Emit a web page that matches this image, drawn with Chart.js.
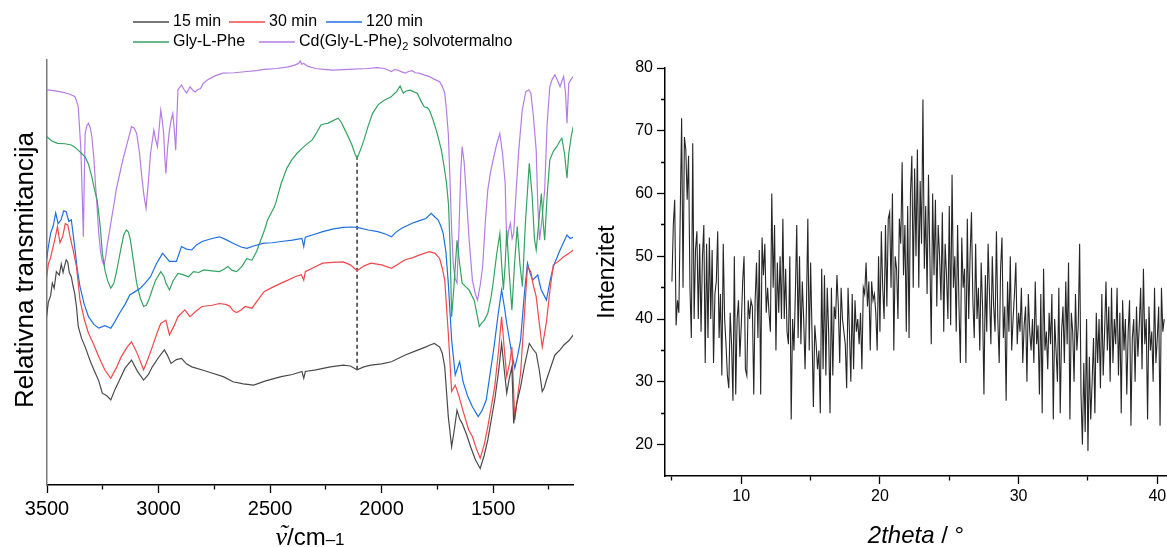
<!DOCTYPE html>
<html>
<head>
<meta charset="utf-8">
<script src="https://cdn.jsdelivr.net/npm/chart.js@4.4.1/dist/chart.umd.min.js"></script>
<style>
  html, body { margin: 0; padding: 0; background: #fff; }
  #wrap { position: relative; width: 1167px; height: 547px; }
  #ir { position: absolute; left: 0; top: 0; }
  #xrd { position: absolute; left: 580px; top: 0; }
</style>
</head>
<body>
<div id="wrap">
  <canvas id="ir" width="580" height="547"></canvas>
  <canvas id="xrd" width="587" height="547"></canvas>
</div>
<script>
// ---- IR spektri (valni broj / relativna transmitancija) ----
const wn15 = [3502,3494,3484,3476,3468,3458,3445,3436,3428,3422,3414,3407,3400,3391,3384,3376,3368,3360,3345,3329,
  3305,3283,3268,3252,3232,3214,3195,3175,3150,3121,3095,3067,3045,3028,3000,2974,2960,2944,2920,2897,
  2875,2851,2800,2758,2710,2666,2620,2573,2520,2450,2400,2357,2349,2342,2295,2230,2172,2140,2110,2080,
  2048,2000,1956,1894,1850,1801,1780,1763,1750,1740,1728,1717,1701,1686,1674,1662,1650,1639,1620,1601,
  1580,1558,1540,1524,1493,1475,1462,1450,1439,1428,1416,1408,1395,1377,1360,1338,1322,1307,1293,1280,
  1270,1261,1240,1223,1200,1184,1160,1141];
const tr15 = [39.6,43.0,44.5,47.5,46.3,50.2,49.4,52.0,50.0,51.4,53.0,52.5,50.0,49.0,47.0,45.1,42.0,37.3,34.5,32.5,
  29.0,26.3,24.5,21.6,21.0,20.0,22.5,24.7,27.5,29.4,26.8,24.7,26.0,27.8,30.0,31.8,30.5,28.6,29.5,29.8,
  28.5,27.8,27.0,26.3,25.5,24.3,23.8,23.5,24.5,25.5,26.0,26.7,25.1,26.7,27.1,27.8,28.2,28.0,27.1,27.8,
  28.2,28.5,29.0,30.6,31.5,32.5,33.0,33.3,32.8,32.5,31.0,27.8,16.1,9.0,13.0,17.6,15.5,14.5,12.0,9.0,
  6.0,3.9,7.0,10.6,20.0,27.0,33.3,27.0,21.6,25.0,27.8,14.5,19.0,23.1,28.0,33.3,32.0,31.0,27.0,22.0,
  23.0,24.7,28.0,30.6,31.8,32.9,34.0,35.3];

const wn30 = [3502,3494,3484,3476,3466,3453,3442,3430,3418,3407,3395,3383,3368,3352,3333,3314,3290,3268,3240,3214,
  3190,3167,3140,3121,3100,3090,3067,3045,3028,3005,2990,2967,2951,2930,2913,2882,2859,2830,2805,2760,
  2727,2700,2681,2665,2650,2630,2612,2595,2581,2555,2527,2490,2450,2420,2388,2360,2349,2342,2300,2264,
  2220,2172,2140,2110,2080,2048,2000,1956,1925,1894,1860,1832,1786,1760,1740,1728,1717,1701,1686,1670,
  1655,1632,1610,1593,1575,1558,1540,1524,1493,1475,1462,1450,1439,1425,1416,1403,1390,1377,1360,1346,
  1331,1320,1307,1293,1280,1270,1261,1245,1230,1210,1184,1160,1141];
const tr30 = [48.6,52.0,53.5,55.3,57.5,60.8,57.0,58.4,61.5,61.2,58.0,55.3,51.4,43.5,39.0,35.7,33.0,30.2,27.0,25.1,
  27.5,30.2,32.5,33.7,31.5,30.2,27.1,30.0,32.5,36.0,38.0,38.8,35.3,37.5,39.6,41.2,39.6,41.0,42.0,42.3,
  42.7,42.5,42.1,41.0,40.6,41.2,42.0,41.8,41.6,43.5,45.5,46.5,47.5,48.2,49.0,49.5,48.2,50.2,51.3,52.2,
  52.4,52.5,51.8,50.4,51.5,52.2,51.8,51.0,52.0,53.0,53.5,54.1,54.9,54.5,53.3,51.0,48.2,35.7,22.0,23.5,
  21.2,16.9,13.0,11.4,8.5,6.3,9.5,13.7,23.1,32.0,39.6,32.0,25.5,29.0,32.5,15.3,21.0,26.3,40.0,51.4,
  50.2,47.0,44.3,38.0,32.5,35.5,38.4,46.0,51.8,52.5,53.7,54.5,55.3];

const wn120 = [3502,3494,3484,3472,3461,3450,3437,3425,3414,3402,3391,3376,3365,3352,3333,3314,3290,3268,3240,3214,
  3195,3175,3150,3129,3105,3082,3060,3036,3010,2982,2965,2951,2920,2897,2875,2851,2830,2805,2760,2727,
  2700,2666,2630,2604,2570,2527,2490,2450,2400,2357,2349,2342,2300,2264,2220,2172,2140,2110,2060,2017,
  1980,1956,1935,1910,1863,1830,1801,1778,1760,1747,1735,1724,1712,1701,1686,1670,1650,1635,1615,1593,
  1567,1550,1531,1496,1478,1462,1450,1439,1420,1403,1390,1377,1360,1346,1335,1323,1300,1285,1261,1245,
  1230,1200,1185,1169,1155,1141];
const tr120 = [52.9,56.0,59.2,61.0,64.0,61.5,62.4,64.5,64.3,62.0,62.4,56.1,51.0,46.7,42.5,39.6,37.8,36.9,37.5,36.9,
  38.5,40.4,42.5,44.7,45.5,46.3,47.5,49.0,52.0,54.5,53.5,52.6,52.6,56.1,55.5,55.3,56.5,57.3,58.0,58.4,
  57.8,56.9,56.0,55.7,56.3,56.9,57.0,57.3,57.6,58.0,56.1,58.3,59.0,59.6,60.2,60.6,60.7,60.6,60.0,59.6,
  59.0,58.4,59.5,60.4,61.6,62.2,62.7,63.9,63.0,62.4,61.0,59.2,55.0,47.5,34.1,25.9,29.0,24.3,21.0,18.4,
  16.1,17.5,20.0,32.5,40.0,45.9,42.0,38.0,32.0,27.5,30.5,34.1,45.0,52.2,50.0,48.2,49.4,46.0,43.5,48.0,
  51.4,55.3,57.0,58.8,58.0,58.3];

const wnGly = [3502,3480,3453,3420,3391,3375,3360,3345,3329,3314,3299,3287,3275,3266,3260,3252,3240,3229,3214,3200,
  3190,3178,3167,3155,3144,3135,3126,3112,3098,3082,3067,3055,3044,3028,3013,2990,2975,2967,2951,2935,
  2913,2890,2866,2843,2820,2797,2760,2727,2705,2689,2670,2650,2625,2604,2590,2581,2560,2542,2525,2511,
  2495,2480,2473,2450,2425,2403,2380,2357,2335,2311,2290,2272,2255,2241,2215,2195,2180,2164,2150,2133,
  2120,2110,2095,2079,2060,2041,2015,1987,1970,1956,1945,1933,1925,1917,1910,1902,1890,1871,1855,1840,
  1825,1809,1795,1786,1770,1755,1745,1732,1720,1709,1700,1693,1686,1678,1662,1650,1639,1620,1608,1595,
  1585,1570,1562,1550,1539,1524,1510,1500,1485,1470,1462,1454,1446,1439,1428,1416,1404,1392,1380,1369,
  1355,1338,1325,1315,1307,1295,1284,1276,1269,1258,1246,1230,1215,1200,1192,1180,1169,1161,1150,1141];
const trGly = [82.0,81.0,80.4,80.3,80.0,79.5,78.8,78.0,77.2,75.5,72.5,69.5,67.0,63.0,60.0,54.5,50.5,48.2,46.3,47.5,
  49.8,53.0,56.1,59.0,60.0,59.5,57.6,52.5,47.5,44.0,42.0,42.3,43.5,46.0,48.2,50.2,49.0,47.5,45.9,48.0,
  49.8,49.5,49.0,50.2,50.0,50.6,50.4,50.2,50.8,51.4,50.5,50.2,51.5,53.3,53.0,52.9,55.0,57.6,60.0,62.4,
  64.0,65.5,66.6,71.0,74.5,76.5,78.0,79.2,80.2,81.2,83.0,84.7,85.0,85.1,85.8,86.3,85.3,83.5,82.0,80.0,
  78.0,76.9,78.8,81.2,84.5,87.4,89.5,90.6,91.0,91.4,92.0,92.5,93.3,93.9,93.0,92.2,92.7,92.9,92.5,92.2,
  90.5,89.0,88.8,88.2,86.0,83.5,81.5,78.8,75.0,71.0,66.0,56.0,39.6,45.0,57.6,52.0,47.5,46.5,45.9,44.5,
  43.5,39.5,37.3,38.2,38.8,40.4,44.0,47.5,54.0,59.2,52.0,45.9,52.0,60.0,50.0,41.2,52.0,60.8,52.0,46.7,
  62.0,75.7,68.0,58.0,55.3,62.0,68.6,62.0,57.6,68.0,76.5,78.5,79.6,81.0,81.6,78.0,72.2,78.0,82.0,84.3];

const wnCd = [3502,3470,3437,3400,3376,3368,3360,3354,3348,3342,3337,3333,3329,3322,3314,3306,3299,3290,3283,3275,
  3268,3260,3252,3244,3236,3229,3220,3214,3200,3190,3175,3160,3140,3121,3110,3098,3085,3075,3065,3056,
  3046,3036,3021,3012,3005,2997,2990,2984,2977,2972,2967,2960,2951,2943,2936,2930,2923,2918,2913,2897,
  2885,2874,2866,2859,2848,2836,2825,2812,2800,2781,2750,2712,2660,2604,2560,2527,2470,2419,2390,2372,
  2365,2358,2349,2330,2295,2260,2218,2150,2064,2020,1987,1970,1956,1940,1925,1910,1894,1880,1863,1850,
  1832,1810,1786,1765,1740,1728,1717,1709,1701,1693,1686,1678,1670,1662,1652,1645,1639,1630,1620,1608,
  1593,1580,1570,1558,1547,1535,1524,1512,1500,1485,1470,1458,1446,1439,1430,1423,1415,1408,1396,1385,
  1370,1354,1340,1331,1320,1307,1300,1292,1280,1269,1258,1246,1235,1223,1210,1200,1192,1184,1175,1169,
  1161,1150,1141];
const trCd = [93.0,92.8,92.5,92.0,91.4,90.5,89.0,84.0,78.8,68.0,58.4,72.0,82.7,84.5,85.1,84.0,82.0,77.0,71.0,65.0,
  59.2,55.0,52.6,51.8,54.0,56.9,59.5,61.6,66.0,69.4,73.0,76.5,80.5,84.3,84.0,82.7,78.0,72.5,68.0,65.1,
  71.0,78.0,83.5,81.0,79.6,84.0,88.2,86.0,82.7,77.0,73.3,79.0,83.5,86.0,87.4,84.0,78.8,86.0,93.0,94.1,
  93.0,92.2,93.0,93.7,93.0,92.5,93.0,93.3,94.5,95.3,96.2,96.9,97.0,97.3,97.5,97.8,98.0,98.4,98.8,99.2,
  99.8,99.0,99.2,98.5,98.0,97.8,97.6,97.8,98.0,98.2,98.0,97.6,97.3,97.8,97.6,97.2,96.9,97.3,97.5,97.0,
  96.9,96.5,96.1,95.5,94.9,93.8,92.2,88.0,82.7,71.0,60.0,51.4,48.5,47.5,62.0,74.0,79.6,76.0,68.0,58.0,
  48.2,45.0,43.5,47.0,51.4,62.0,69.4,73.5,76.5,80.0,82.7,78.0,71.0,56.1,60.0,61.6,58.0,59.2,70.0,78.8,
  88.0,92.5,93.0,92.2,87.0,78.8,66.0,57.6,63.0,69.4,85.0,93.7,95.5,96.5,95.0,93.7,95.0,96.1,92.0,85.1,
  94.5,95.5,96.1];

// isprekidana oznaka kod ~2110 cm-1
const markerWn = 2110;
const markerTop = 77.5;
const markerBottom = 27.1;

const irTicks = [3500, 3250, 3000, 2750, 2500, 2250, 2000, 1750, 1500, 1250];

// ---- XRD (2theta od 5.0 do 40.5, korak 0.1) ----
const twoThetaStart = 5.0;
const twoThetaStep = 0.1;
const xrdIntensity = [
  46,55,59,39,43,41,57,72,45,69,
  67,59,66,45,37,68,40,51,54,40,
  52,38,50,55,33,52,37,53,40,51,
  33,44,46,54,37,44,31,52,40,36,
  31,29,41,36,27,50,28,40,43,34,
  39,46,50,32,31,43,40,43,42,28,
  43,49,37,51,28,53,47,52,41,45,
  41,38,60,45,55,35,49,41,50,40,
  56,40,48,38,36,50,24,40,35,44,
  55,37,50,36,46,40,32,42,56,35,
  49,38,26,39,36,32,35,25,48,32,
  47,31,45,38,25,45,31,42,40,47,
  42,33,45,40,38,36,29,45,38,30,
  44,32,43,38,40,36,41,32,45,44,
  49,42,46,35,46,43,44,41,35,50,
  38,54,45,40,55,42,56,57,45,60,
  35,50,48,40,56,52,65,47,55,38,
  58,37,60,66,45,64,50,67,45,62,
  52,75,48,58,44,63,50,36,60,47,
  59,42,55,50,43,57,38,52,47,40,
  58,39,63,45,50,38,55,42,33,53,
  45,48,33,56,40,50,57,43,37,52,
  40,45,35,49,42,28,47,38,52,44,
  36,50,42,38,54,40,33,48,53,37,
  42,27,46,38,50,35,40,44,49,36,
  41,38,45,33,39,42,30,44,38,35,
  40,33,46,36,39,28,44,25,48,35,
  38,32,41,36,44,24,40,35,30,45,
  25,38,42,33,46,36,49,24,41,38,
  30,44,35,39,52,28,20,33,22,40,
  19,34,24,30,37,25,41,33,40,29,
  44,31,38,46,35,42,30,45,33,40,
  36,45,31,41,25,43,35,40,28,38,
  43,23,37,40,30,42,34,39,45,32,
  48,36,40,24,42,35,38,30,45,33,
  37,42,23,45,38,40
];
const xrdXTicks = [5, 10, 15, 20, 25, 30, 35, 40];
const xrdYTicks = [20, 25, 30, 35, 40, 45, 50, 55, 60, 65, 70, 75, 80];

const pts = (xs, ys) => xs.map((x, i) => ({ x: x, y: ys[i] }));
const xrdPts = xrdIntensity.map((v, i) => ({ x: +(twoThetaStart + i * twoThetaStep).toFixed(2), y: v }));

const SANS = '"Liberation Sans", Arial, sans-serif';

// tekst iz dijelova s razlicitim fontovima
function drawParts(ctx, parts, cx, baseY) {
  let total = 0;
  parts.forEach(p => { ctx.font = p.font; p.w = ctx.measureText(p.t).width; total += p.w; });
  let x = cx - total / 2;
  ctx.textAlign = 'left';
  ctx.textBaseline = 'alphabetic';
  parts.forEach(p => {
    ctx.font = p.font;
    ctx.fillText(p.t, x, baseY - (p.dy || 0));
    if (p.accent) {
      ctx.textAlign = 'center';
      ctx.fillText(p.accent, x + p.w / 2 + 2, baseY - 3);
      ctx.textAlign = 'left';
    }
    x += p.w;
  });
}

const irExtras = {
  id: 'irExtras',
  afterDraw(chart) {
    const ctx = chart.ctx;
    ctx.save();
    ctx.fillStyle = '#000';
    // legenda
    const legend = [
      { c: '#4a4a4a', x: 133, y: 22, t: [{ t: '15 min' }] },
      { c: '#f0484b', x: 229, y: 22, t: [{ t: '30 min' }] },
      { c: '#1f6fe0', x: 326, y: 22, t: [{ t: '120 min' }] },
      { c: '#34a262', x: 133, y: 42, t: [{ t: 'Gly-L-Phe' }] },
      { c: '#b57ce4', x: 259, y: 42, t: [{ t: 'Cd(Gly-L-Phe)' }, { t: '2', small: true }, { t: ' solvotermalno' }] }
    ];
    legend.forEach(it => {
      ctx.strokeStyle = it.c;
      ctx.lineWidth = 1.5;
      ctx.beginPath();
      ctx.moveTo(it.x, it.y);
      ctx.lineTo(it.x + 36, it.y);
      ctx.stroke();
      let x = it.x + 40;
      ctx.textAlign = 'left';
      ctx.textBaseline = 'middle';
      it.t.forEach(p => {
        ctx.font = (p.small ? '11px ' : '16px ') + SANS;
        ctx.fillText(p.t, x, it.y + (p.small ? 5 : 0));
        x += ctx.measureText(p.t).width;
      });
    });
    // naslov osi y
    ctx.save();
    ctx.translate(33, 270);
    ctx.rotate(-Math.PI / 2);
    ctx.font = '26px ' + SANS;
    ctx.textAlign = 'center';
    ctx.textBaseline = 'alphabetic';
    ctx.fillText('Relativna transmitancija', 0, 0);
    ctx.restore();
    // naslov osi x
    const a = chart.chartArea;
    drawParts(ctx, [
      { t: '\u03BD', accent: '\u02DC', font: 'italic 26px "Liberation Serif", serif' },
      { t: '/cm', font: '24px ' + SANS },
      { t: '\u20131', font: '17px ' + SANS }
    ], (a.left + a.right) / 2, 545);
    ctx.restore();
  }
};

const xrdExtras = {
  id: 'xrdExtras',
  afterDraw(chart) {
    const ctx = chart.ctx;
    const a = chart.chartArea;
    ctx.save();
    ctx.fillStyle = '#000';
    ctx.save();
    ctx.translate(34, (a.top + a.bottom) / 2);
    ctx.rotate(-Math.PI / 2);
    ctx.font = '23px ' + SANS;
    ctx.textAlign = 'center';
    ctx.textBaseline = 'alphabetic';
    ctx.fillText('Intenzitet', 0, 0);
    ctx.restore();
    drawParts(ctx, [
      { t: '2theta', font: 'italic 24px ' + SANS },
      { t: ' / \u00B0', font: '24px ' + SANS }
    ], (a.left + a.right) / 2, 543);
    ctx.restore();
  }
};

const irLine = { borderWidth: 1.2, pointRadius: 0, tension: 0, fill: false };

new Chart(document.getElementById('ir'), {
  type: 'line',
  data: {
    datasets: [
      { label: '15 min', data: pts(wn15, tr15), borderColor: '#4a4a4a', ...irLine },
      { label: '30 min', data: pts(wn30, tr30), borderColor: '#f0484b', ...irLine },
      { label: '120 min', data: pts(wn120, tr120), borderColor: '#1f6fe0', ...irLine },
      { label: 'Gly-L-Phe', data: pts(wnGly, trGly), borderColor: '#34a262', ...irLine },
      { label: 'Cd(Gly-L-Phe)2 solvotermalno', data: pts(wnCd, trCd), borderColor: '#b57ce4', ...irLine },
      { label: 'oznaka', data: [{ x: markerWn, y: markerTop }, { x: markerWn, y: markerBottom }],
        borderColor: '#000', borderWidth: 1.2, borderDash: [4, 3], pointRadius: 0, fill: false }
    ]
  },
  options: {
    responsive: false,
    animation: false,
    layout: { padding: { top: 60, right: 7, left: 0, bottom: 0 } },
    plugins: { legend: { display: false }, tooltip: { enabled: false } },
    scales: {
      x: {
        type: 'linear', reverse: true, min: 1142, max: 3500,
        afterBuildTicks: s => { s.ticks = irTicks.map(v => ({ value: v })); },
        afterFit: s => { s.height = 62; s.paddingLeft = 0; s.paddingRight = 0; },
        ticks: {
          autoSkip: false, maxRotation: 0, padding: 4, color: '#000',
          font: { family: SANS, size: 20 },
          callback: v => (v % 500 === 0 ? String(v) : '')
        },
        grid: {
          drawOnChartArea: false, tickLength: 8, tickWidth: 1.3, tickColor: '#000',
          tickBorderDash: c => (c.tick && c.tick.value % 500 !== 0 ? [4, 100] : [])
        },
        border: { color: '#000', width: 1.5 }
      },
      y: {
        min: 0, max: 100,
        afterFit: s => { s.width = 47; },
        ticks: { display: false },
        grid: { display: false, drawTicks: false },
        border: { color: '#7a7a7a', width: 1.5 }
      }
    }
  },
  plugins: [irExtras]
});

new Chart(document.getElementById('xrd'), {
  type: 'line',
  data: {
    datasets: [
      { label: 'XRD', data: xrdPts, borderColor: '#262626', borderWidth: 1.1, pointRadius: 0, tension: 0, fill: false }
    ]
  },
  options: {
    responsive: false,
    animation: false,
    layout: { padding: { top: 68, right: 0, left: 0, bottom: 0 } },
    plugins: { legend: { display: false }, tooltip: { enabled: false } },
    scales: {
      x: {
        type: 'linear', min: 4.5, max: 40.7,
        afterBuildTicks: s => { s.ticks = xrdXTicks.map(v => ({ value: v })); },
        afterFit: s => { s.height = 71; s.paddingLeft = 0; s.paddingRight = 0; },
        ticks: {
          autoSkip: false, maxRotation: 0, padding: 3, color: '#000',
          font: { family: SANS, size: 16 },
          callback: v => (v % 10 === 0 ? String(v) : '')
        },
        grid: {
          drawOnChartArea: false, tickLength: 8, tickWidth: 1.3, tickColor: '#000',
          tickBorderDash: c => (c.tick && c.tick.value % 10 !== 0 ? [4, 100] : [])
        },
        border: { color: '#000', width: 1.5 }
      },
      y: {
        min: 15, max: 80,
        afterBuildTicks: s => { s.ticks = xrdYTicks.map(v => ({ value: v })); },
        afterFit: s => { s.width = 85; s.paddingTop = 0; s.paddingBottom = 0; },
        ticks: {
          autoSkip: false, padding: 4, color: '#000',
          font: { family: SANS, size: 16 },
          callback: v => (v % 10 === 0 ? String(v) : '')
        },
        grid: {
          drawOnChartArea: false, tickLength: 8, tickWidth: 1.3, tickColor: '#000',
          tickBorderDash: c => (c.tick && c.tick.value % 10 !== 0 ? [0, 4, 4, 100] : [])
        },
        border: { color: '#000', width: 1.5 }
      }
    }
  },
  plugins: [xrdExtras]
});
</script>
</body>
</html>
